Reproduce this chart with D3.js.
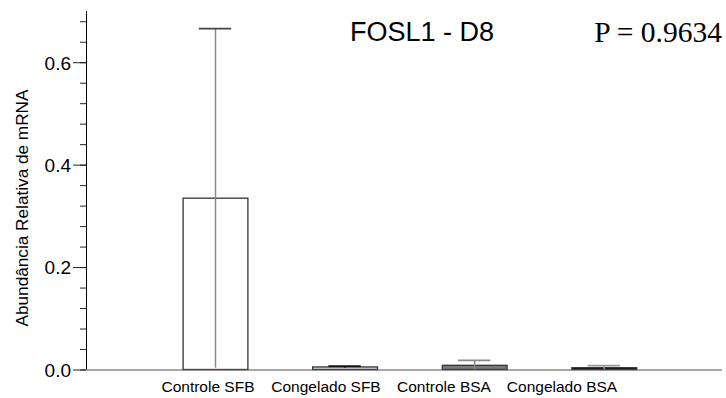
<!DOCTYPE html>
<html>
<head>
<meta charset="utf-8">
<script src="https://cdn.jsdelivr.net/npm/d3@7"></script>
<style>
  body { margin: 0; background: #fff; }
  text { font-family: Arial, "Liberation Sans", sans-serif; fill: #000; }
</style>
</head>
<body>
<svg width="726" height="398"></svg>
<script>
// data
var categories = ["Controle SFB", "Congelado SFB", "Controle BSA", "Congelado BSA"];
var means  = [0.3345, 0.0050, 0.0082, 0.0035];
var errors = [0.3310, 0.0015, 0.0098, 0.0040];
var majorTicks = [0.0, 0.2, 0.4, 0.6];

// looks
var fills = ["#ffffff", "#d4d4d4", "#7a7a7a", "#000000"];
var errColors = ["#8a8a8a", "#111111", "#8a8a8a", "#9a9a9a"];

var svg = d3.select("svg");

var y = d3.scaleLinear().domain([0, 0.7]).range([369.5, 11]);
var x = d3.scaleBand().domain(categories).range([150.2, 668.6])
    .paddingInner(0.5).paddingOuter(0.25);
// labels sit on a tighter spacing than the bars in the original
var xl = d3.scaleBand().domain(categories).range([149, 621]);

var rows = categories.map(function(c, i) {
  return {name: c, mean: means[i], err: errors[i], fill: fills[i], ec: errColors[i]};
});

// bars
svg.append("g").selectAll("rect")
  .data(rows)
  .enter().append("rect")
    .attr("x", function(d) { return x(d.name) + 0.5; })
    .attr("y", function(d) { return y(d.mean); })
    .attr("width", x.bandwidth())
    .attr("height", function(d) { return y(0) - y(d.mean); })
    .attr("fill", function(d) { return d.fill; })
    .attr("stroke", "#333")
    .attr("stroke-width", 1.3);

// error bars
var eb = svg.append("g").selectAll("g")
  .data(rows)
  .enter().append("g");

eb.append("line")
    .attr("x1", function(d) { return x(d.name) + x.bandwidth() / 2 + 0.5; })
    .attr("x2", function(d) { return x(d.name) + x.bandwidth() / 2 + 0.5; })
    .attr("y1", function(d) { return y(Math.max(0, d.mean - d.err)); })
    .attr("y2", function(d) { return y(d.mean + d.err); })
    .attr("stroke", function(d) { return d.ec; })
    .attr("stroke-width", 1.5);

eb.append("line")
    .attr("x1", function(d) { return x(d.name) + x.bandwidth() / 4; })
    .attr("x2", function(d) { return x(d.name) + x.bandwidth() * 3 / 4; })
    .attr("y1", function(d) { return y(d.mean + d.err); })
    .attr("y2", function(d) { return y(d.mean + d.err); })
    .attr("stroke", function(d, i) { return i == 0 ? "#444" : d.ec; })
    .attr("stroke-width", 1.8);

// y axis: minor ticks, then major ticks with labels
var minorTicks = d3.range(0, 0.701, 0.04);
svg.append("g")
    .attr("transform", "translate(86,0)")
    .call(d3.axisLeft(y).tickValues(minorTicks).tickSize(6).tickFormat(""))
    .call(function(g) { g.select(".domain").remove(); })
    .selectAll("line").attr("stroke", "#222");

var yAxis = svg.append("g")
    .attr("transform", "translate(86,0)")
    .call(d3.axisLeft(y).tickValues(majorTicks).tickSize(13).tickPadding(2).tickFormat(d3.format(".1f")));
yAxis.select(".domain").attr("d", "M0.5," + y(0.7) + "V" + y(0));
yAxis.selectAll("line").attr("stroke", "#222");
yAxis.selectAll("text").attr("font-size", 19).attr("dy", "0.36em")
    .style("font-family", "Arial, 'Liberation Sans', sans-serif");

// x baseline
svg.append("line")
    .attr("x1", 86).attr("x2", 722)
    .attr("y1", y(0) + 0.5).attr("y2", y(0) + 0.5)
    .attr("stroke", "#555").attr("stroke-width", 1.2);

// category labels
svg.append("g").selectAll("text")
  .data(categories)
  .enter().append("text")
    .attr("x", function(d) { return xl(d) + xl.bandwidth() / 2; })
    .attr("y", 392)
    .attr("text-anchor", "middle")
    .attr("font-size", 15.5)
    .text(function(d) { return d; });

// y label
svg.append("text")
    .attr("transform", "translate(28,208) rotate(-90)")
    .attr("text-anchor", "middle")
    .attr("font-size", 17.2)
    .text("Abundância Relativa de mRNA");

// title and p value
svg.append("text")
    .attr("x", 350).attr("y", 41)
    .attr("font-size", 27)
    .text("FOSL1 - D8");

svg.append("text")
    .attr("x", 722).attr("y", 42)
    .attr("text-anchor", "end")
    .attr("font-size", 29.5)
    .style("font-family", "'Liberation Serif', 'Times New Roman', serif")
    .text("P = 0.9634");
</script>
</body>
</html>
